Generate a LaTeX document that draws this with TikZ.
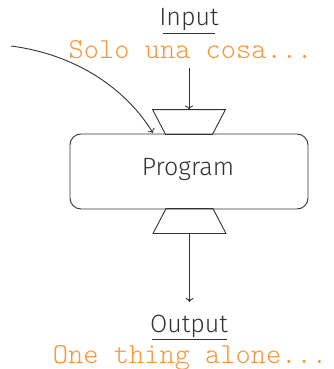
\documentclass[tikz,border=0pt]{standalone}
\usepackage{fontspec}
\usetikzlibrary{arrows.meta}
\newfontfamily\lightsf{Fira Sans Light}
\newfontfamily\codefont{Latin Modern Mono Light}
\definecolor{ink}{HTML}{333333}
\definecolor{codeorange}{HTML}{FA9640}
\begin{document}
\begin{tikzpicture}[x=1pt,y=-1pt,
  line width=0.9pt,
  >={To[length=4pt,width=8pt]},
  label/.style={font=\lightsf\fontsize{25}{25}\selectfont, text=ink, inner sep=0pt, anchor=base},
  code/.style={font=\codefont\fontsize{29}{29}\selectfont, text=codeorange, inner sep=0pt, anchor=base},
  port/.style={minimum width=72pt, minimum height=24pt, inner sep=0pt},
  box/.style={draw=ink, rounded corners=11pt, minimum width=238pt, minimum height=75pt, inner sep=0pt},
  boxtext/.style={font=\lightsf\fontsize{25}{25}\selectfont, text=ink, inner sep=0pt, anchor=base}]
\useasboundingbox (0,0) rectangle (333,369);

% input side
\node[label] (in) at (189,26) {Input};
\draw[ink] (163,33) -- (215,33);
\node[code] (incode) at (190.5,59) {Solo una cosa...};
\node[port] (inport) at (189,122) {};
\draw[ink] (inport.north west) -- (inport.north east)
  -- ([xshift=-13pt]inport.south east) -- ([xshift=13pt]inport.south west) -- cycle;

% program block
\node[box] (prog) at (189,171.5) {};
\node[boxtext] (progtext) at (188,175) {Program};

% output side
\node[port] (outport) at (189.5,221) {};
\draw[ink] ([xshift=13pt]outport.north west) -- ([xshift=-13pt]outport.north east)
  -- (outport.south east) -- (outport.south west) -- cycle;
\node[label] (out) at (189,332) {Output};
\draw[ink] (152,339) -- (227,339);
\node[code] (outcode) at (190,363) {One thing alone...};

% connectors
\coordinate (src) at (11,46);
\coordinate (tip) at (153,133);
\coordinate (outend) at (189.5,302);
\draw[->, ink] ([yshift=42pt]inport.north) -- (inport.north);
\draw[->, ink] (outport.south) -- (outend);
\draw[->, ink] (src) .. controls (80,55) and (128,92) .. (tip);
\end{tikzpicture}
\end{document}
